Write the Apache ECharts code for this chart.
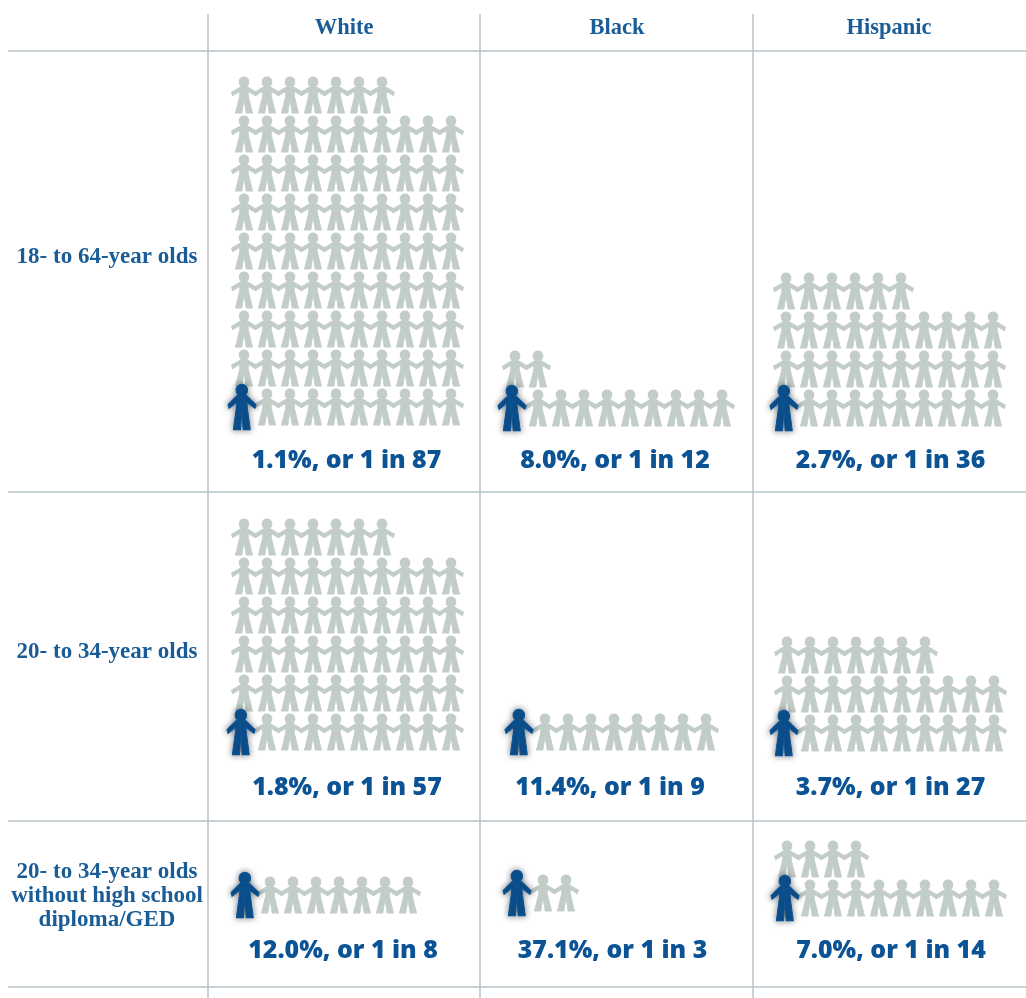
<!DOCTYPE html>
<html><head><meta charset="utf-8">
<style>html,body{margin:0;padding:0;background:#fff}#c{width:1026px;height:998px}</style>
<script src="https://cdn.jsdelivr.net/npm/echarts@6/dist/echarts.min.js"></script>
</head><body><div id="c"></div>
<script>
// ---- data ----
const races = ['White', 'Black', 'Hispanic'];
const groups = ['18- to 64-year olds', '20- to 34-year olds', '20- to 34-year olds\nwithout high school\ndiploma/GED'];
const oneInCounts = [
  [87, 12, 36],
  [57, 9, 27],
  [8, 3, 14]
];
const percents = [
  ['1.1%', '8.0%', '2.7%'],
  ['1.8%', '11.4%', '3.7%'],
  ['12.0%', '37.1%', '7.0%']
];
const perRow = 10;

// ---- layout (first-person column x, bottom-row y, per panel) ----
const panelOrigin = [
  [[244, 407], [515, 408], [786, 408]],
  [[244, 732], [522, 732], [787, 733]],
  [[247, 895], [520, 893], [787, 898]]
];
const blueOffset = [
  [[-2, 0], [-3, 0], [-2, 0]],
  [[-3, 0], [-3, 0], [-3, 0]],
  [[-2, 0], [-3, 0], [-2, 0]]
];
const captionPos = [
  [[346.5, 461], [615, 461], [890.5, 461]],
  [[347, 788], [610, 788], [890.5, 788]],
  [[343, 951], [612.5, 951], [891, 951]]
];
const headerX = [344, 617, 889];
const groupY = [257, 652, 896];
const colStep = 23, rowStep = 39;

const personPath = 'path://M35 0C43 0 49 6 49 14C49 20 46 25 42 28L46 31L70 46L67 56L47 43L47 56L59 108L41 108L35 68L29 108L11 108L23 56L23 43L3 56L0 46L24 31L28 28C24 25 21 20 21 14C21 6 27 0 35 0Z';
const bluePath = 'path://M41 0C51 0 58 8 58 17C58 24 54 29 49 32L56 34L83 60L80 70L56 52L57 66L66 133L45 133L41 75L37 133L16 133L25 66L26 52L3 70L0 60L26 34L33 32C28 29 24 24 24 17C24 8 31 0 41 0Z';

const grid = [], xAxis = [], yAxis = [], series = [], title = [];
const blue = '#0b5394', gray = '#c3cdc7', textBlue = '#1a5c96';

oneInCounts.forEach((rowCounts, r) => {
  rowCounts.forEach((total, c) => {
    const idx = grid.length;
    const [x0, y0] = panelOrigin[r][c];
    const rows = Math.ceil(total / perRow);
    grid.push({left: x0 - colStep / 2, width: perRow * colStep,
               top: y0 + rowStep / 2 - rows * rowStep, height: rows * rowStep});
    xAxis.push({type: 'value', gridIndex: idx, min: -0.5, max: perRow - 0.5, show: false});
    yAxis.push({type: 'value', gridIndex: idx, min: -0.5, max: rows - 0.5, show: false});
    const pts = [];
    for (let i = 1; i < total; i++) pts.push([i % perRow, Math.floor(i / perRow)]);
    series.push({type: 'scatter', xAxisIndex: idx, yAxisIndex: idx, silent: true,
      symbol: personPath, symbolSize: [25, 36], data: pts, z: 2,
      itemStyle: {color: gray, opacity: 1, borderColor: gray, borderWidth: 0.9}});
    series.push({type: 'scatter', xAxisIndex: idx, yAxisIndex: idx, silent: true,
      symbol: bluePath, symbolSize: [28, 45], symbolOffset: blueOffset[r][c], data: [[0, 0]], z: 3,
      itemStyle: {color: blue, opacity: 1, borderColor: blue, borderWidth: 1.2, shadowBlur: 6, shadowColor: 'rgba(20,30,40,0.55)'}});
    title.push({text: percents[r][c] + ', or 1 in ' + total,
      left: captionPos[r][c][0], top: captionPos[r][c][1], textAlign: 'center', textVerticalAlign: 'middle',
      padding: 0,
      textStyle: {fontFamily: 'Open Sans', fontWeight: 800, fontSize: 24.9, color: blue}});
  });
});
races.forEach((t, i) => title.push({text: t, left: headerX[i], top: 28, textAlign: 'center', textVerticalAlign: 'middle', padding: 0,
  textStyle: {fontFamily: 'Liberation Serif', fontWeight: 700, fontSize: 22.5, color: textBlue}}));
groups.forEach((t, i) => title.push({text: t, left: 107, top: groupY[i], textAlign: 'center', textVerticalAlign: 'middle', padding: 0,
  textStyle: {fontFamily: 'Liberation Serif', fontWeight: 700, fontSize: 23, lineHeight: 24, color: textBlue}}));

const ruleColor = '#b5c5ca';
const hLines = [51, 492, 821, 987], vLines = [208, 480, 753];
const graphic = [
  ...hLines.map(y => ({type: 'line', silent: true, z: 1, shape: {x1: 8, y1: y, x2: 1026, y2: y}, style: {stroke: ruleColor, lineWidth: 1.5}})),
  ...vLines.map(x => ({type: 'line', silent: true, z: 1, shape: {x1: x, y1: 14, x2: x, y2: 998}, style: {stroke: ruleColor, lineWidth: 1.5}}))
];

const chart = echarts.init(document.getElementById('c'), null, {renderer: 'canvas'});
chart.setOption({animation: false, backgroundColor: '#fff', tooltip: {show: false},
  grid, xAxis, yAxis, series, title, graphic});
</script></body></html>
